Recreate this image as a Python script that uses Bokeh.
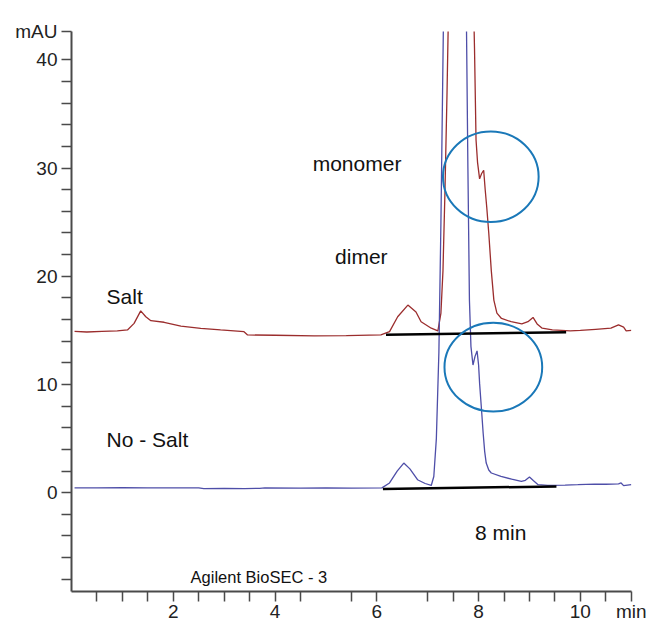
from bokeh.plotting import figure
from bokeh.models import Range1d, FixedTicker, ColumnDataSource
from bokeh.core.properties import value
from bokeh.embed import file_html
from bokeh.resources import INLINE

# ---- data ----
salt_x = [0.06, 0.3, 0.6, 0.9, 1.1, 1.23, 1.36, 1.46, 1.56, 1.82, 2.15, 2.54, 2.93, 3.39, 3.46,
          4.0, 4.77, 5.4, 6.08, 6.25, 6.41, 6.61, 6.77, 6.87, 7.07, 7.2, 7.26, 7.3, 7.34, 7.38,
          7.41, 7.5, 7.65, 7.8, 7.88, 7.92, 7.95, 7.98, 8.02, 8.06, 8.1, 8.13, 8.16, 8.2, 8.25,
          8.3, 8.36, 8.45, 8.64, 8.85, 8.97, 9.07, 9.15, 9.25, 9.45, 9.63, 9.8, 10.0, 10.3, 10.6,
          10.75, 10.85, 10.9, 11.0]
salt_y = [14.9, 14.85, 14.9, 14.95, 15.04, 15.65, 16.8, 16.26, 15.9, 15.75, 15.4, 15.19, 15.04, 14.88, 14.58,
          14.55, 14.5, 14.52, 14.58, 14.88, 16.26, 17.34, 16.7, 15.8, 15.2, 14.95, 16.6, 20.5, 28.0, 37.0,
          45.0, 70.0, 85.0, 70.0, 50.0, 41.0, 32.6, 30.5, 29.0, 29.5, 29.8, 28.0, 26.4, 24.0, 20.5,
          17.8, 16.6, 16.1, 15.8, 15.6, 15.8, 16.2, 15.6, 15.2, 15.05, 15.0, 14.95, 15.0, 15.1, 15.2,
          15.5, 15.3, 14.95, 15.0]

nosalt_x = [0.06, 0.5, 1.0, 1.5, 2.0, 2.5, 2.6, 3.0, 3.4, 3.7, 3.8, 4.5, 5.0, 5.5, 6.1, 6.25,
            6.4, 6.53, 6.65, 6.8, 6.95, 7.07, 7.12, 7.17, 7.22, 7.26, 7.3, 7.34, 7.53, 7.7, 7.76,
            7.79, 7.82, 7.85, 7.89, 7.93, 7.97, 8.0, 8.02, 8.06, 8.09, 8.12, 8.15, 8.2, 8.25, 8.44,
            8.65, 8.84, 8.92, 9.0, 9.08, 9.17, 9.36, 9.7, 9.95, 10.28, 10.5, 10.75, 10.8, 10.85, 11.0]
nosalt_y = [0.45, 0.45, 0.46, 0.45, 0.45, 0.45, 0.38, 0.4, 0.38, 0.4, 0.44, 0.43, 0.44, 0.43, 0.45, 0.9,
            2.0, 2.74, 2.2, 1.2, 0.85, 0.67, 1.5, 5.0, 13.0, 25.0, 40.0, 55.0, 85.0, 60.0, 44.0,
            30.0, 17.8, 13.5, 11.8, 12.6, 13.1, 11.8, 10.1, 7.5, 5.5, 3.8, 2.74, 2.1, 1.82, 1.5,
            1.25, 1.04, 1.15, 1.45, 1.1, 0.74, 0.67, 0.7, 0.74, 0.8, 0.78, 0.82, 0.9, 0.65, 0.75]

salt_base_x = [6.18, 9.72]
salt_base_y = [14.6, 14.82]
nosalt_base_x = [6.12, 9.53]
nosalt_base_y = [0.34, 0.58]

circle_x = [8.24, 8.29]
circle_y = [29.2, 11.6]
circle_w = [1.88, 1.92]
circle_h = [8.37, 8.21]

note_text = ["monomer", "dimer", "Salt", "No - Salt", "8 min"]
note_x = [4.74, 5.18, 0.69, 0.69, 7.93]
note_y = [30.4, 21.8, 18.1, 4.9, -3.7]
column_text = ["Agilent BioSEC - 3"]
column_x = [2.34]
column_y = [-7.75]

x_major = [2, 4, 6, 8, 10, 11]
x_minor = [0.5, 1, 1.5, 2.5, 3, 3.5, 4.5, 5.5, 7, 7.5, 8.5, 9, 9.5, 10.5]
y_major = [0, 10, 20, 30, 40, 42.6]
y_minor = [-8, -6, -4, -2, 2, 4, 6, 8, 12, 14, 16, 18, 22, 24, 26, 28, 32, 34, 36, 38]

x_unit = "min"
y_unit = "mAU"

# ---- figure ----
p = figure(width=652, height=624, output_backend="svg", toolbar_location=None,
           x_range=Range1d(0, 11.005), y_range=Range1d(-9.13, 42.62),
           min_border_left=71, min_border_right=21, min_border_top=31, min_border_bottom=32)
p.outline_line_color = None
p.xgrid.visible = False
p.ygrid.visible = False
p.background_fill_color = "white"
p.border_fill_color = "white"

tick_font = "Liberation Sans"
for ax in (p.xaxis[0], p.yaxis[0]):
    ax.axis_line_color = "#4a4a4a"
    ax.axis_line_width = 2
    ax.major_tick_line_color = "#4a4a4a"
    ax.minor_tick_line_color = "#4a4a4a"
    ax.major_tick_line_width = 1.5
    ax.minor_tick_line_width = 1.5
    ax.major_tick_out = 10
    ax.major_tick_in = 0
    ax.minor_tick_out = 10
    ax.minor_tick_in = 0
    ax.major_label_text_font = tick_font
    ax.major_label_text_font_size = "19px"
    ax.major_label_text_color = "#222222"
p.yaxis[0].major_label_standoff = 4
p.xaxis[0].major_label_standoff = -1

p.xaxis[0].ticker = FixedTicker(ticks=x_major, minor_ticks=x_minor)
p.yaxis[0].ticker = FixedTicker(ticks=y_major, minor_ticks=y_minor)
p.xaxis[0].major_label_overrides = {11: x_unit}
p.yaxis[0].major_label_overrides = {42.6: y_unit}

p.line(salt_x, salt_y, line_color="#9b2d2d", line_width=1.3)
p.line(nosalt_x, nosalt_y, line_color="#4e4ea8", line_width=1.3)
p.line(salt_base_x, salt_base_y, line_color="black", line_width=2.5)
p.line(nosalt_base_x, nosalt_base_y, line_color="black", line_width=2.5)

p.ellipse(x=circle_x, y=circle_y, width=circle_w, height=circle_h,
          fill_color=None, line_color="#1a78b8", line_width=2)

src = ColumnDataSource(dict(x=note_x, y=note_y, t=note_text))
p.text(x="x", y="y", text="t", source=src, text_align="left", text_baseline="middle",
       text_font_size="21px", text_color="#111111", text_font=value("Liberation Sans"))

src2 = ColumnDataSource(dict(x=column_x, y=column_y, t=column_text))
p.text(x="x", y="y", text="t", source=src2, text_align="left", text_baseline="middle",
       text_font_size="16.5px", text_color="#111111", text_font=value("Liberation Sans"))

open("out.html", "w").write(file_html(p, INLINE))
